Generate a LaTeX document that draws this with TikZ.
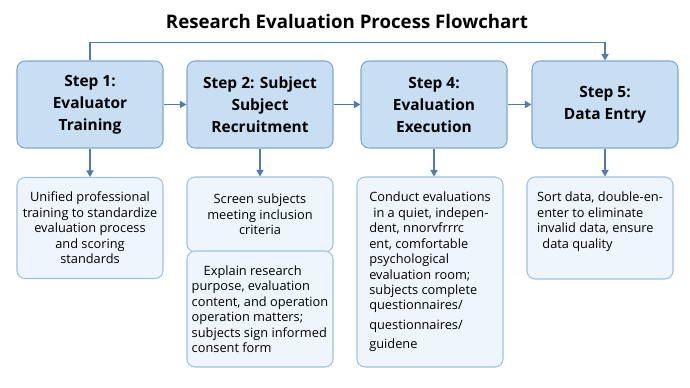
\documentclass[tikz,border=0pt]{standalone}
\usepackage{fontspec}
\setmainfont{Open Sans}
\usetikzlibrary{arrows.meta}
\definecolor{stepfill}{HTML}{C8DEF3}
\definecolor{stepline}{HTML}{7EA8D2}
\definecolor{notefill}{HTML}{EEF5FC}
\definecolor{noteline}{HTML}{9DC2E5}
\definecolor{flowline}{HTML}{4E7CAD}

\begin{document}
\begin{tikzpicture}[x=0.75pt,y=-0.75pt,
  stepbox/.style={draw=stepline,fill=stepfill,line width=0.8pt,rounded corners=6pt,
    minimum width=109.5pt,minimum height=65.25pt,align=center,
    font=\bfseries\fontsize{11.6}{16.5}\selectfont},
  notebox/.style={draw=noteline,fill=notefill,line width=0.8pt,rounded corners=6pt,
    minimum width=109.5pt,inner sep=2pt,font=\fontsize{9.6}{11.6}\selectfont},
  flow/.style={draw=flowline,line width=1pt,-{Triangle[length=5pt,width=5.5pt]}}]
\useasboundingbox (0,0) rectangle (690,387);
\node[font=\bfseries\fontsize{14}{16}\selectfont] (title) at (347,21) {Research Evaluation Process Flowchart};
% top row
\node[stepbox] (s1) at (90,104.5) {Step 1:\\Evaluator\\Training};
\node[stepbox] (s2) at (260,104.5) {Step 2: Subject\\Subject\\Recruitment};
\node[stepbox] (s4) at (434,104.5) {Step 4:\\Evaluation\\Execution};
\node[stepbox] (s5) at (605,104.5) {Step 5:\\Data Entry};
% bottom row
\node[notebox,minimum height=75.75pt,align=center] (d1) at (90,228)
  {Unified professional\\training to standardize\\evaluation process\\and scoring\\standards};
\node[notebox,minimum height=56.25pt,align=center] (d2) at (260,214.5)
  {Screen subjects\\meeting inclusion\\criteria};
\node[notebox,minimum height=87pt,align=left] (d3) at (260,309)
  {\hspace*{9pt}Explain research\\purpose, evaluation\\content, and operation\\operation matters;\\subjects sign informed\\consent form};
\node[notebox,minimum height=142.5pt,align=left] (d4) at (430,272)
  {Conduct evaluations\\\hspace*{3pt}in a quiet, indepen-\\dent, nnorvfrrrc\\ent, comfortable\\psychological\\evaluation room;\\subjects complete\\questionnaires/\\[3pt]questionnaires/\\[3pt]guidene};
\node[notebox,minimum height=76.5pt,align=left] (d5) at (600,228)
  {Sort data, double-en-\\enter to eliminate\\invalid data, ensure\\\hspace*{4pt}data quality\\\mbox{}};
% connectors
\draw[flow] (s1) -- (s2);
\draw[flow] (s2) -- (s4);
\draw[flow] (s4) -- (s5);
\draw[flow] (s1.north) -- ++(0,-18) -| (s5.north);
\draw[flow] (s1) -- (d1);
\draw[flow] (s2) -- (d2);
\draw[flow] (s4.south) -- (s4.south |- d4.north);
\draw[flow] (s5.south) -- (s5.south |- d5.north);
\end{tikzpicture}
\end{document}
